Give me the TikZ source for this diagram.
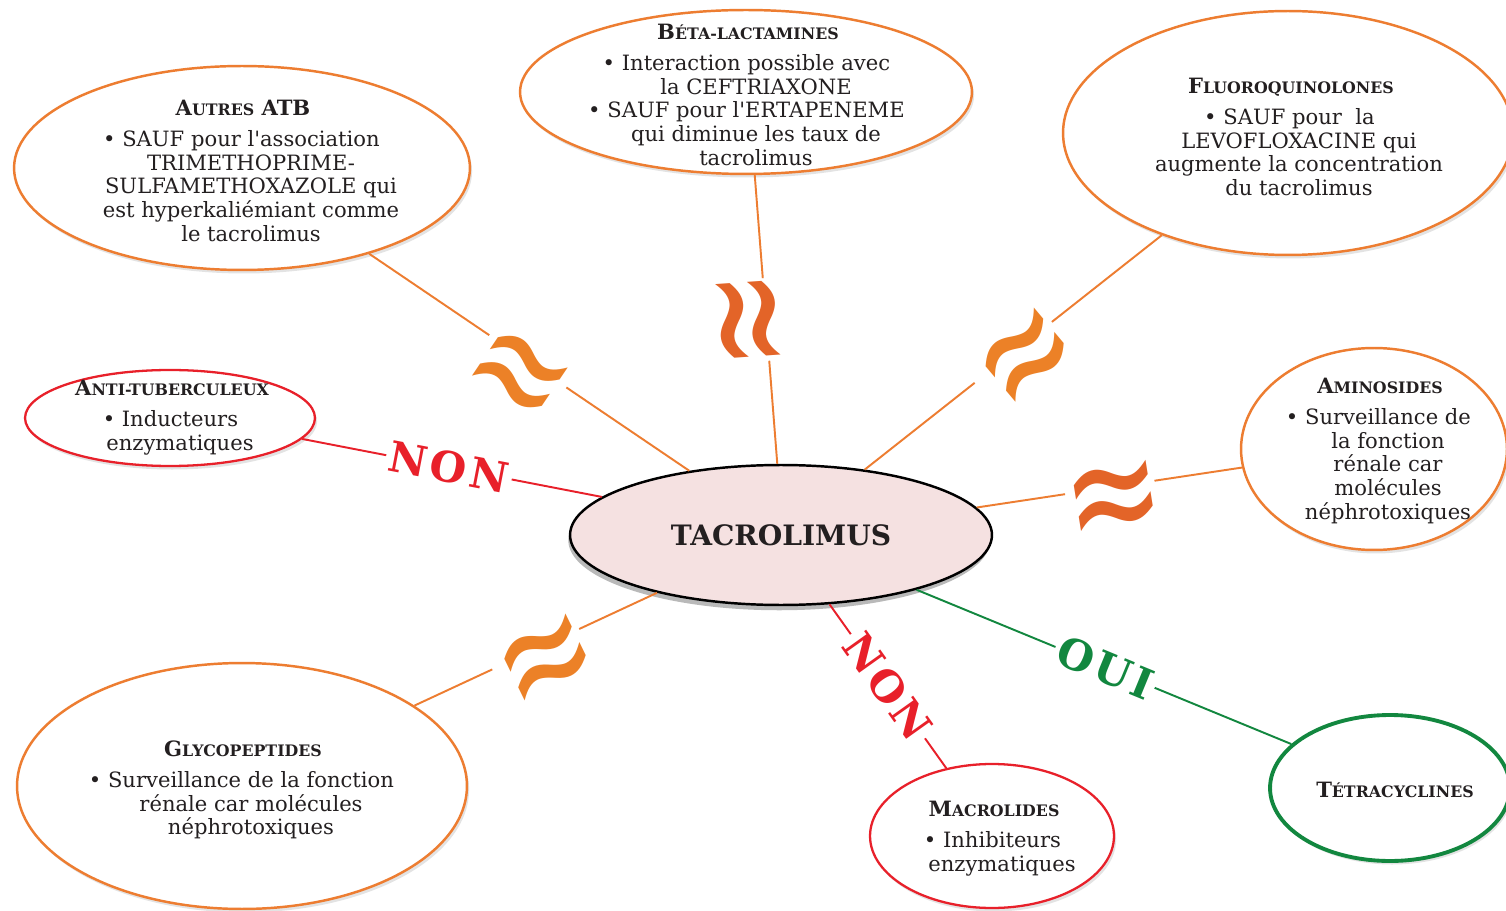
\documentclass[tikz,border=0pt]{standalone}
\usepackage{fontspec}
\setmainfont{DejaVu Serif}[Ligatures=TeXOff]
\newfontfamily\symfont{DejaVu Sans}
\usepackage{graphicx}
\usetikzlibrary{shapes.geometric,shadows,calc}
\definecolor{orL}{HTML}{ED7D31}
\definecolor{orS}{HTML}{EC8127}
\definecolor{orD}{HTML}{E36428}
\definecolor{redL}{HTML}{E8202A}
\definecolor{grL}{HTML}{12873F}
\definecolor{txt}{HTML}{231F20}
\definecolor{pinkF}{HTML}{F5E1E1}
\newcommand\sm[1]{{\fontsize{9}{13.6}\selectfont #1}}
\newcommand\hd[1]{\textbf{#1}\hspace*{0.32cm}}
\newcommand\bul{\llap{\textbullet\ }}
\newcommand\apx{\scalebox{1}[1.4]{≈}}
\begin{document}
\begin{tikzpicture}[x=0.02cm, y=-0.02cm,
  oval/.style={ellipse, draw, inner sep=0pt, line width=1.4pt, fill=white,
    drop shadow={shadow xshift=1.2pt, shadow yshift=-2pt, opacity=0.22}},
  orov/.style={oval, draw=orL},
  redov/.style={oval, draw=redL, line width=1.3pt},
  grov/.style={oval, draw=grL, line width=2.2pt},
  tacov/.style={ellipse, draw=black, line width=1.4pt, fill=pinkF, inner sep=0pt,
    drop shadow={shadow xshift=-1pt, shadow yshift=-3pt, opacity=0.55},
    font=\bfseries\fontsize{16}{16}\selectfont, text=txt},
  txtblk/.style={align=center, text=txt, font=\fontsize{12}{13.6}\selectfont, inner sep=0pt},
  conn/.style={line width=1.1pt},
  approxsym/.style={text=orS, font=\symfont\fontsize{68}{68}\selectfont, inner sep=0pt},
  yesno/.style={font=\bfseries\fontsize{24}{24}\selectfont\addfontfeature{LetterSpace=8}, fill=white, inner sep=2pt, sloped}
]
\useasboundingbox (0,0) rectangle (1506,911);
\clip (0,0) rectangle (1506,911);
\fill[white] (0,0) rectangle (1506,911);

% ellipses
\node[orov, minimum width=9.12cm, minimum height=4.08cm] (atb) at (242,168) {};
\node[orov, minimum width=9.04cm, minimum height=3.28cm] (beta) at (746,92) {};
\node[orov, minimum width=9.00cm, minimum height=4.88cm] (fluo) at (1288,133) {};
\node[redov, minimum width=5.80cm, minimum height=1.92cm] (antitb) at (170,418) {};
\node[orov, minimum width=5.32cm, minimum height=4.04cm] (amino) at (1374,449) {};
\node[orov, minimum width=9.00cm, minimum height=4.92cm] (glyco) at (242,786) {};
\node[redov, minimum width=4.88cm, minimum height=2.88cm] (macro) at (992,836) {};
\node[grov, minimum width=4.80cm, minimum height=2.92cm] (tetra) at (1390,788) {};
\node[tacov, minimum width=8.44cm, minimum height=2.80cm] (tac) at (781,535) {TACROLIMUS};

% texts
\node[txtblk] (atbT) at (251,171) {\hd{A\sm{UTRES} ATB}\\[4pt]\bul SAUF pour l'association\\TRIMETHOPRIME-\\SULFAMETHOXAZOLE qui\\est hyperkaliémiant comme\\le tacrolimus};
\node[txtblk] (betaT) at (756,95) {\hd{B\sm{ÉTA-LACTAMINES}}\\[4pt]\bul Interaction possible avec\\la CEFTRIAXONE\\\bul SAUF pour l'ERTAPENEME\\qui diminue les taux de\\tacrolimus};
\node[txtblk] (fluoT) at (1299,137) {\hd{F\sm{LUOROQUINOLONES}}\\[4pt]\bul SAUF pour\ \ la\\LEVOFLOXACINE qui\\augmente la concentration\\du tacrolimus};
\node[txtblk] (antitbT) at (180,418) {\hd{A\sm{NTI-TUBERCULEUX}}\\[4pt]\bul Inducteurs\\enzymatiques};
\node[txtblk] (aminoT) at (1388,451) {\hd{A\sm{MINOSIDES}}\\[4pt]\bul Surveillance de\\la fonction\\rénale car\\molécules\\néphrotoxiques};
\node[txtblk] (glycoT) at (251,790) {\hd{G\sm{LYCOPEPTIDES}}\\[4pt]\bul Surveillance de la fonction\\rénale car molécules\\néphrotoxiques};
\node[txtblk] (macroT) at (1002,839) {\hd{M\sm{ACROLIDES}}\\[4pt]\bul Inhibiteurs\\enzymatiques};
\node[txtblk] (tetraT) at (1395,790) {\textbf{T\sm{ÉTRACYCLINES}}};

% orange connectors with gaps
\draw[conn, orL] (tac.145) -- ($(tac.145)!0.384!(atb.-34)$);
\draw[conn, orL] ($(tac.145)!0.625!(atb.-34)$) -- (atb.-34);
\draw[conn, orL] (tac.93) -- ($(tac.93)!0.357!(beta.-84)$);
\draw[conn, orL] ($(tac.93)!0.643!(beta.-84)$) -- (beta.-84);
\draw[conn, orL] (tac.38) -- ($(tac.38)!0.37!(fluo.-141)$);
\draw[conn, orL] ($(tac.38)!0.63!(fluo.-141)$) -- (fluo.-141);
\draw[conn, orL] (tac.8) -- ($(tac.8)!0.333!(amino.188)$);
\draw[conn, orL] ($(tac.8)!0.67!(amino.188)$) -- (amino.188);
\draw[conn, orL] (tac.205) -- ($(tac.205)!0.321!(glyco.25)$);
\draw[conn, orL] ($(tac.205)!0.679!(glyco.25)$) -- (glyco.25);

% approx symbols
\node[approxsym, rotate=-34] (ap1) at (514,381) {\apx};
\node[approxsym, text=orD, rotate=-86] (ap2) at (737,321) {\apx};
\node[approxsym, rotate=40] (ap3) at (1032,364) {\apx};
\node[approxsym, text=orD, rotate=9] (ap4) at (1115,507) {\apx};
\node[approxsym, rotate=26] (ap5) at (550,667) {\apx};

% red / green connectors
\draw[conn, redL] (tac.168) -- node[yesno, text=redL, pos=0.51] (non1) {NON} (antitb.-9.6);
\draw[conn, redL] (tac.-55) -- node[yesno, text=redL, pos=0.5] (non2) {NON} (macro.124.6);
\draw[conn, grL] (tac.-22) -- node[yesno, text=grL, pos=0.503] (oui) {OUI} (tetra.156);
\end{tikzpicture}
\end{document}
